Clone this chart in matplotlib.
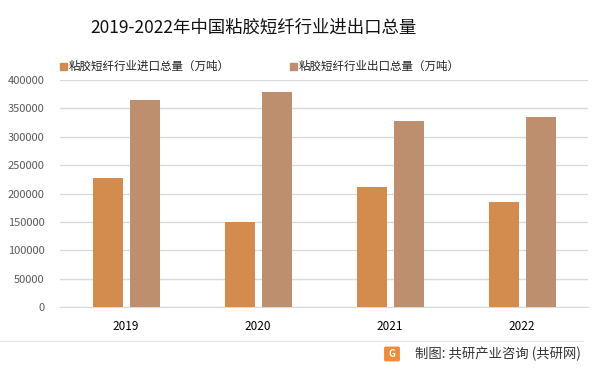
import matplotlib
matplotlib.use("Agg")
import matplotlib.pyplot as plt
from matplotlib.patches import FancyBboxPatch
from matplotlib.lines import Line2D
import numpy as np

plt.rcParams['font.family'] = ['Noto Sans CJK SC', 'DejaVu Sans']

years = ["2019", "2020", "2021", "2022"]
imports = [227000, 150000, 211000, 185000]
exports = [365000, 379000, 328000, 335000]
import_label = "粘胶短纤行业进口总量（万吨）"
export_label = "粘胶短纤行业出口总量（万吨）"
title = "2019-2022年中国粘胶短纤行业进出口总量"
source = "制图: 共研产业咨询 (共研网)"

c_imp = "#D38C4E"
c_exp = "#BD8F6E"

W, H = 603, 372
fig = plt.figure(figsize=(W / 100, H / 100), dpi=100)
fig.patch.set_facecolor("white")

ax = fig.add_axes([60 / W, (H - 307) / H, 528 / W, 227 / H])
x = np.arange(len(years))
bw = 0.227
ax.bar(x - 0.14, imports, bw, color=c_imp, zorder=3)
ax.bar(x + 0.145, exports, bw, color=c_exp, zorder=3)

ax.set_xlim(-0.5, 3.5)
ax.set_ylim(0, 400000)
ax.set_yticks(np.arange(0, 400001, 50000))
ax.set_yticklabels([str(v) for v in range(0, 400001, 50000)])
ax.grid(axis="y", color="#D9D9D9", lw=1, zorder=0)
ax.set_xticks(x)
ax.set_xticklabels(years)
for s in ["top", "right", "left"]:
    ax.spines[s].set_visible(False)
ax.spines["bottom"].set_color("#D9D9D9")
ax.tick_params(axis="y", length=0, pad=11, labelsize=8, labelcolor="#595959")
ax.tick_params(axis="x", length=0, pad=9, labelsize=8.5, labelcolor="#000000")

# title
fig.text(253 / W, 1 - 28 / H, title, ha="center", va="center", fontsize=12.5, color="#111111")

# legend
for lx, col, lab in [(60, c_imp, import_label), (290, c_exp, export_label)]:
    fig.patches.append(plt.Rectangle((lx / W, 1 - 70 / H), 7 / W, 7 / H,
                                     transform=fig.transFigure, color=col))
    fig.text((lx + 9) / W, 1 - 66 / H, lab, ha="left", va="center", fontsize=8.3, color="#222222")

# separator and source
fig.lines.append(Line2D([0, 583 / W], [1 - 341 / H, 1 - 341 / H], transform=fig.transFigure,
                        color="#E6E6E6", lw=1))
fig.patches.append(FancyBboxPatch((386 / W, 1 - 360 / H), 12 / W, 12 / H,
                                  boxstyle="round,pad=0.002", transform=fig.transFigure,
                                  color="#F08A3C"))
fig.text(392 / W, 1 - 354 / H, "G", ha="center", va="center", fontsize=7, color="white",
         fontweight="bold")
fig.text(415 / W, 1 - 354 / H, source, ha="left", va="center", fontsize=9.6, color="#333333")

fig.savefig("out.png", dpi=100)
